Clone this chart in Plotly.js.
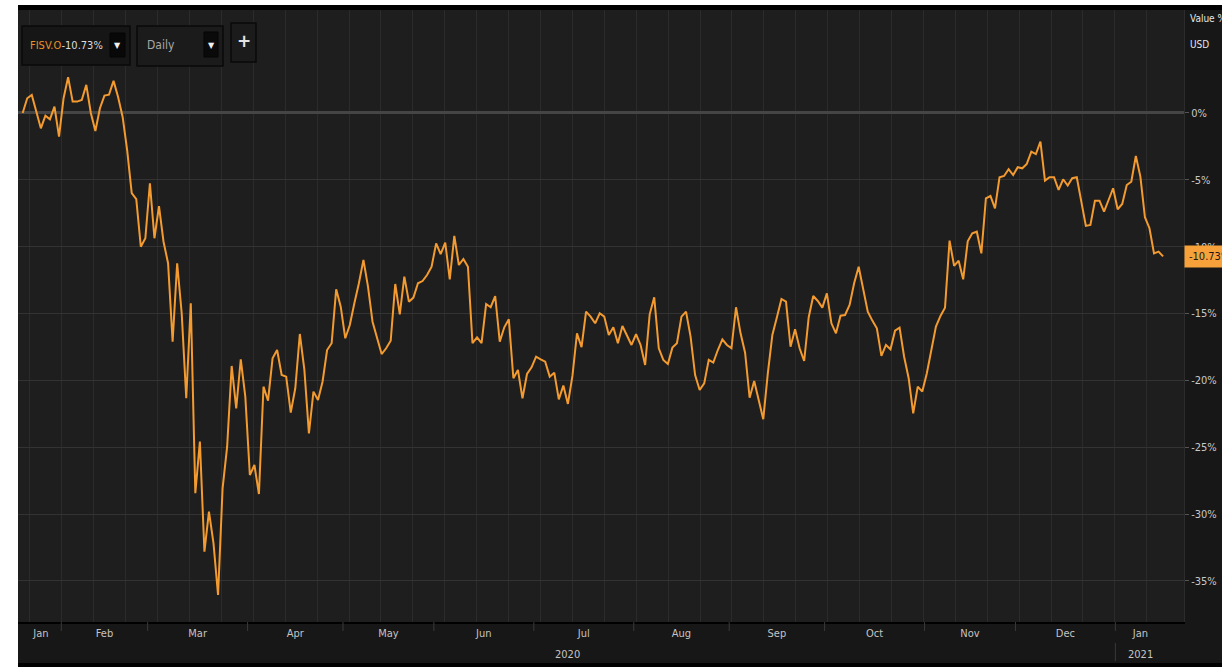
<!DOCTYPE html>
<html>
<head>
<meta charset="utf-8">
<script src="https://cdn.plot.ly/plotly-3.0.1.min.js"></script>
<style>
  html, body { margin: 0; padding: 0; background: #ffffff; }
  #chart { width: 1222px; height: 667px; }
</style>
</head>
<body>
<div id="chart"></div>
<script>
// ---------------- data ----------------
const ticker = 'FISV.O';
const intervalLabel = 'Daily';
const unitLabels = ['Value %', 'USD'];
const startDate = '2020-01-21';
const holidays = ['2020-02-17','2020-04-10','2020-05-25','2020-07-03','2020-09-07',
                  '2020-11-26','2020-12-25','2021-01-01','2021-01-18'];
const monthNames = ['Jan','Feb','Mar','Apr','May','Jun','Jul','Aug','Sep','Oct','Nov','Dec'];
const yTickVals = [0, -5, -10, -15, -20, -25, -30, -35];
const yTickText = ['0%', '-5%', '-10%', '-15%', '-20%', '-25%', '-30%', '-35%'];
// daily % change since first day
const values = [
  0, 1.1, 1.35, 0.1, -1.15, -0.2, -0.47, 0.47, -1.77, 1.1,
  2.67, 0.85, 0.85, 0.97, 2.1, 0.0, -1.35, 0.35, 1.3, 1.37,
  2.4, 1.2, -0.3, -2.8, -6.0, -6.45, -10.0, -9.37, -5.26, -9.37,
  -6.96, -9.63, -11.24, -17.1, -11.24, -14.98, -21.34, -14.23, -28.44, -24.58,
  -32.81, -29.82, -32.19, -36.05, -28.07, -24.96, -18.92, -22.09, -18.42, -21.22,
  -27.08, -26.33, -28.5, -20.47, -21.52, -18.35, -17.73, -19.6, -19.72, -22.41,
  -20.59, -16.53, -19.22, -23.96, -20.84, -21.47, -20.1, -17.73, -17.22, -13.19,
  -14.49, -16.85, -15.86, -14.23, -12.74, -10.99, -12.99, -15.61, -16.73, -18.03,
  -17.6, -17.03, -12.79, -15.06, -12.24, -14.11, -13.81, -12.74, -12.57, -12.12,
  -11.5, -9.75, -10.55, -9.7, -12.44, -9.2, -11.37, -10.92, -11.5, -17.22,
  -16.78, -17.22, -14.29, -14.53, -13.69, -17.1, -16.03, -15.43, -19.84, -19.22,
  -21.34, -19.52, -19.02, -18.23, -18.42, -18.6, -19.72, -19.42, -21.42, -20.39,
  -21.76, -19.67, -16.48, -17.52, -14.86, -15.23, -15.73, -14.98, -15.23, -16.6,
  -16.03, -17.22, -15.93, -16.6, -17.35, -16.55, -17.35, -18.85, -15.06, -13.79,
  -17.6, -18.47, -18.77, -17.55, -17.22, -15.23, -14.86, -16.73, -19.6, -20.72,
  -20.22, -18.47, -18.67, -17.73, -16.93, -17.35, -17.6, -14.53, -16.48, -17.93,
  -21.3, -20.05, -21.47, -22.9, -19.47, -16.6, -15.28, -13.91, -14.11, -17.48,
  -16.18, -17.6, -18.55, -15.28, -13.69, -14.06, -14.56, -13.49, -15.73, -16.48,
  -15.16, -15.11, -14.36, -12.74, -11.5, -13.11, -14.86, -15.53, -16.1, -18.17,
  -17.35, -17.67, -16.28, -16.06, -18.23, -19.84, -22.46, -20.47, -20.84, -19.47,
  -17.85, -15.98, -15.18, -14.56, -9.55, -11.44, -11.05, -12.44, -9.6, -9.0,
  -8.88, -10.5, -6.38, -6.21, -7.13, -4.81, -4.71, -4.21, -4.64, -4.06,
  -4.14, -3.81, -2.89, -3.07, -2.15, -5.06, -4.81, -4.81, -5.76, -4.96,
  -5.43, -4.88, -4.81, -6.63, -8.45, -8.38, -6.56, -6.56, -7.38, -6.51,
  -5.63, -7.2, -6.81, -5.39, -5.14, -3.22, -4.76, -7.8, -8.62, -10.5,
  -10.37, -10.73
];

// ---------------- trading-day calendar ----------------
function tradingDays(start, n) {
  const d = new Date(start + 'T00:00:00Z');
  const out = [];
  while (out.length < n) {
    const dow = d.getUTCDay();
    const s = d.toISOString().slice(0, 10);
    if (dow !== 0 && dow !== 6 && holidays.indexOf(s) < 0) out.push(s);
    d.setUTCDate(d.getUTCDate() + 1);
  }
  return out;
}
const dates = tradingDays(startDate, values.length);
const idx = dates.map((d, i) => i);

const X_RANGE = [-1.03, 255.6];
const Y_RANGE = [-38.07, 7.70];

// month & year groups
const months = [];
const years = [];
dates.forEach((d, i) => {
  const ym = d.slice(0, 7), y = d.slice(0, 4);
  if (!months.length || months[months.length - 1].key !== ym)
    months.push({ key: ym, first: i, last: i, name: monthNames[+d.slice(5, 7) - 1] });
  else months[months.length - 1].last = i;
  if (!years.length || years[years.length - 1].key !== y)
    years.push({ key: y, first: i, last: i });
  else years[years.length - 1].last = i;
});
const monthMid = months.map(m => (Math.max(m.first - 0.5, X_RANGE[0]) + m.last + 0.5) / 2);
const monthText = months.map(m => m.name);
const monthBounds = months.slice(1).map(m => m.first - 0.5);
const yearBounds = years.slice(1).map(y => y.first - 0.5);

// vertical grid every ~7 trading days
const gridX = [];
for (let k = 0; k <= 35; k++) gridX.push(1.6 + 7.023 * k);

// ---------------- helpers ----------------
const FONT = '"Liberation Sans Narrow", "DejaVu Sans Condensed", "Roboto Condensed", "Arial Narrow", sans-serif';
const L = 18, R = 38, T = 10, B = 45, W = 1222, H = 667;
const PW = W - L - R, PH = H - T - B;
const PX = px => (px - L) / PW;
const PY = py => (H - B - py) / PH;

function rectPx(x0, y0, x1, y1, fill, line, lw) {
  return { type: 'rect', xref: 'paper', yref: 'paper', layer: 'above',
    x0: PX(x0), x1: PX(x1), y0: PY(y1), y1: PY(y0),
    fillcolor: fill, line: { color: line || fill, width: lw === undefined ? 0 : lw } };
}
function textPx(x, y, text, opts) {
  return Object.assign({ xref: 'paper', yref: 'paper', x: PX(x), y: PY(y), text: text,
    showarrow: false, xanchor: 'left', yanchor: 'middle',
    font: { family: FONT, size: 11, color: '#dcdcdc' } }, opts || {});
}

const shapes = [
  rectPx(-5, -5, L, H + 5, '#ffffff'),
  rectPx(-5, -5, W + 5, 5, '#ffffff'),
  rectPx(L, 5, W + 5, 10, '#000000'),
  rectPx(L, 663, W + 5, H + 5, '#000000'),
  // controls
  rectPx(22, 26, 130, 65, '#161616', '#0a0a0a', 1.5),
  rectPx(110, 33, 125, 57, '#080808', '#050505', 1),
  rectPx(137, 26, 223, 66, '#1b1b1b', '#0a0a0a', 1.5),
  rectPx(204, 32, 218, 57, '#0a0a0a', '#050505', 1),
  rectPx(231, 23, 256, 62, '#1b1b1b', '#0a0a0a', 1.5)
];
monthBounds.forEach(b => shapes.push({ type: 'line', xref: 'x', yref: 'paper', layer: 'above',
  x0: b, x1: b, y0: PY(622), y1: PY(631), line: { color: '#3a3a3a', width: 1 } }));
yearBounds.forEach(b => shapes.push({ type: 'line', xref: 'x', yref: 'paper', layer: 'above',
  x0: b, x1: b, y0: PY(643), y1: PY(661), line: { color: '#3a3a3a', width: 1 } }));

const lastVal = values[values.length - 1];
const annotations = [
  textPx(28, 45, '<span style="color:#e8912a">' + ticker + '</span>' + lastVal.toFixed(2) + '%'),
  textPx(117.5, 45, '▼', { xanchor: 'center', font: { family: 'DejaVu Sans', size: 8, color: '#f0f0f0' } }),
  textPx(145, 45, intervalLabel, { font: { family: FONT, size: 12, color: '#a8a8a8' } }),
  textPx(211, 45, '▼', { xanchor: 'center', font: { family: 'DejaVu Sans', size: 8, color: '#f0f0f0' } }),
  textPx(243.5, 41, '<b>+</b>', { xanchor: 'center', font: { family: 'DejaVu Sans', size: 17, color: '#e4e4e4' } }),
  textPx(1188, 19, unitLabels[0], { font: { family: FONT, size: 10, color: '#e6e6e6' } }),
  textPx(1188, 44, unitLabels[1], { font: { family: FONT, size: 10, color: '#e6e6e6' } }),
  { xref: 'paper', yref: 'y', x: 1, y: lastVal, xanchor: 'left', yanchor: 'middle', xshift: 0,
    text: lastVal.toFixed(2) + '%', showarrow: false, bgcolor: '#f6a13a', borderpad: 4,
    font: { family: FONT, size: 11, color: '#1a1a1a' } }
];
years.forEach(y => annotations.push({ xref: 'x', yref: 'paper',
  x: (Math.max(y.first - 0.5, X_RANGE[0]) + y.last + 0.5) / 2, y: PY(654),
  text: y.key, showarrow: false, xanchor: 'center', yanchor: 'middle',
  font: { family: FONT, size: 11, color: '#c4c4c4' } }));

const traces = [
  { x: idx, y: values, text: dates, type: 'scatter', mode: 'lines',
    line: { color: '#f39b30', width: 2 },
    hovertemplate: '%{text}: %{y:.2f}%<extra></extra>' },
  { x: [monthMid[0]], y: [null], xaxis: 'x2', yaxis: 'y', type: 'scatter', mode: 'lines',
    hoverinfo: 'skip', showlegend: false }
];

const layout = {
  width: W, height: H,
  margin: { l: L, r: R, t: T, b: B, pad: 0 },
  paper_bgcolor: '#171717', plot_bgcolor: '#1e1e1e',
  showlegend: false,
  font: { family: FONT, size: 11, color: '#c8c8c8' },
  xaxis: { range: X_RANGE, tickvals: gridX, showticklabels: false, ticks: '',
    showgrid: true, gridcolor: '#2b2b2b', gridwidth: 1, zeroline: false,
    showline: true, linecolor: '#000000', linewidth: 2, fixedrange: true },
  xaxis2: { overlaying: 'x', anchor: 'y', side: 'bottom', range: X_RANGE,
    tickvals: monthMid, ticktext: monthText, showgrid: false, zeroline: false,
    ticks: '', showline: false, ticklabelstandoff: 3,
    tickfont: { family: FONT, size: 11, color: '#c4c4c4' }, fixedrange: true },
  yaxis: { side: 'right', range: Y_RANGE, tickvals: yTickVals, ticktext: yTickText,
    ticks: 'outside', ticklen: 4, tickcolor: '#555555',
    showgrid: true, gridcolor: '#333333', gridwidth: 1,
    zeroline: true, zerolinecolor: '#454545', zerolinewidth: 3,
    showline: true, linecolor: '#2c2c2c', linewidth: 1,
    tickfont: { family: FONT, size: 11, color: '#c8c8c8' }, fixedrange: true },
  shapes: shapes,
  annotations: annotations
};

Plotly.newPlot('chart', traces, layout, { displayModeBar: false, staticPlot: false });
</script>
</body>
</html>
